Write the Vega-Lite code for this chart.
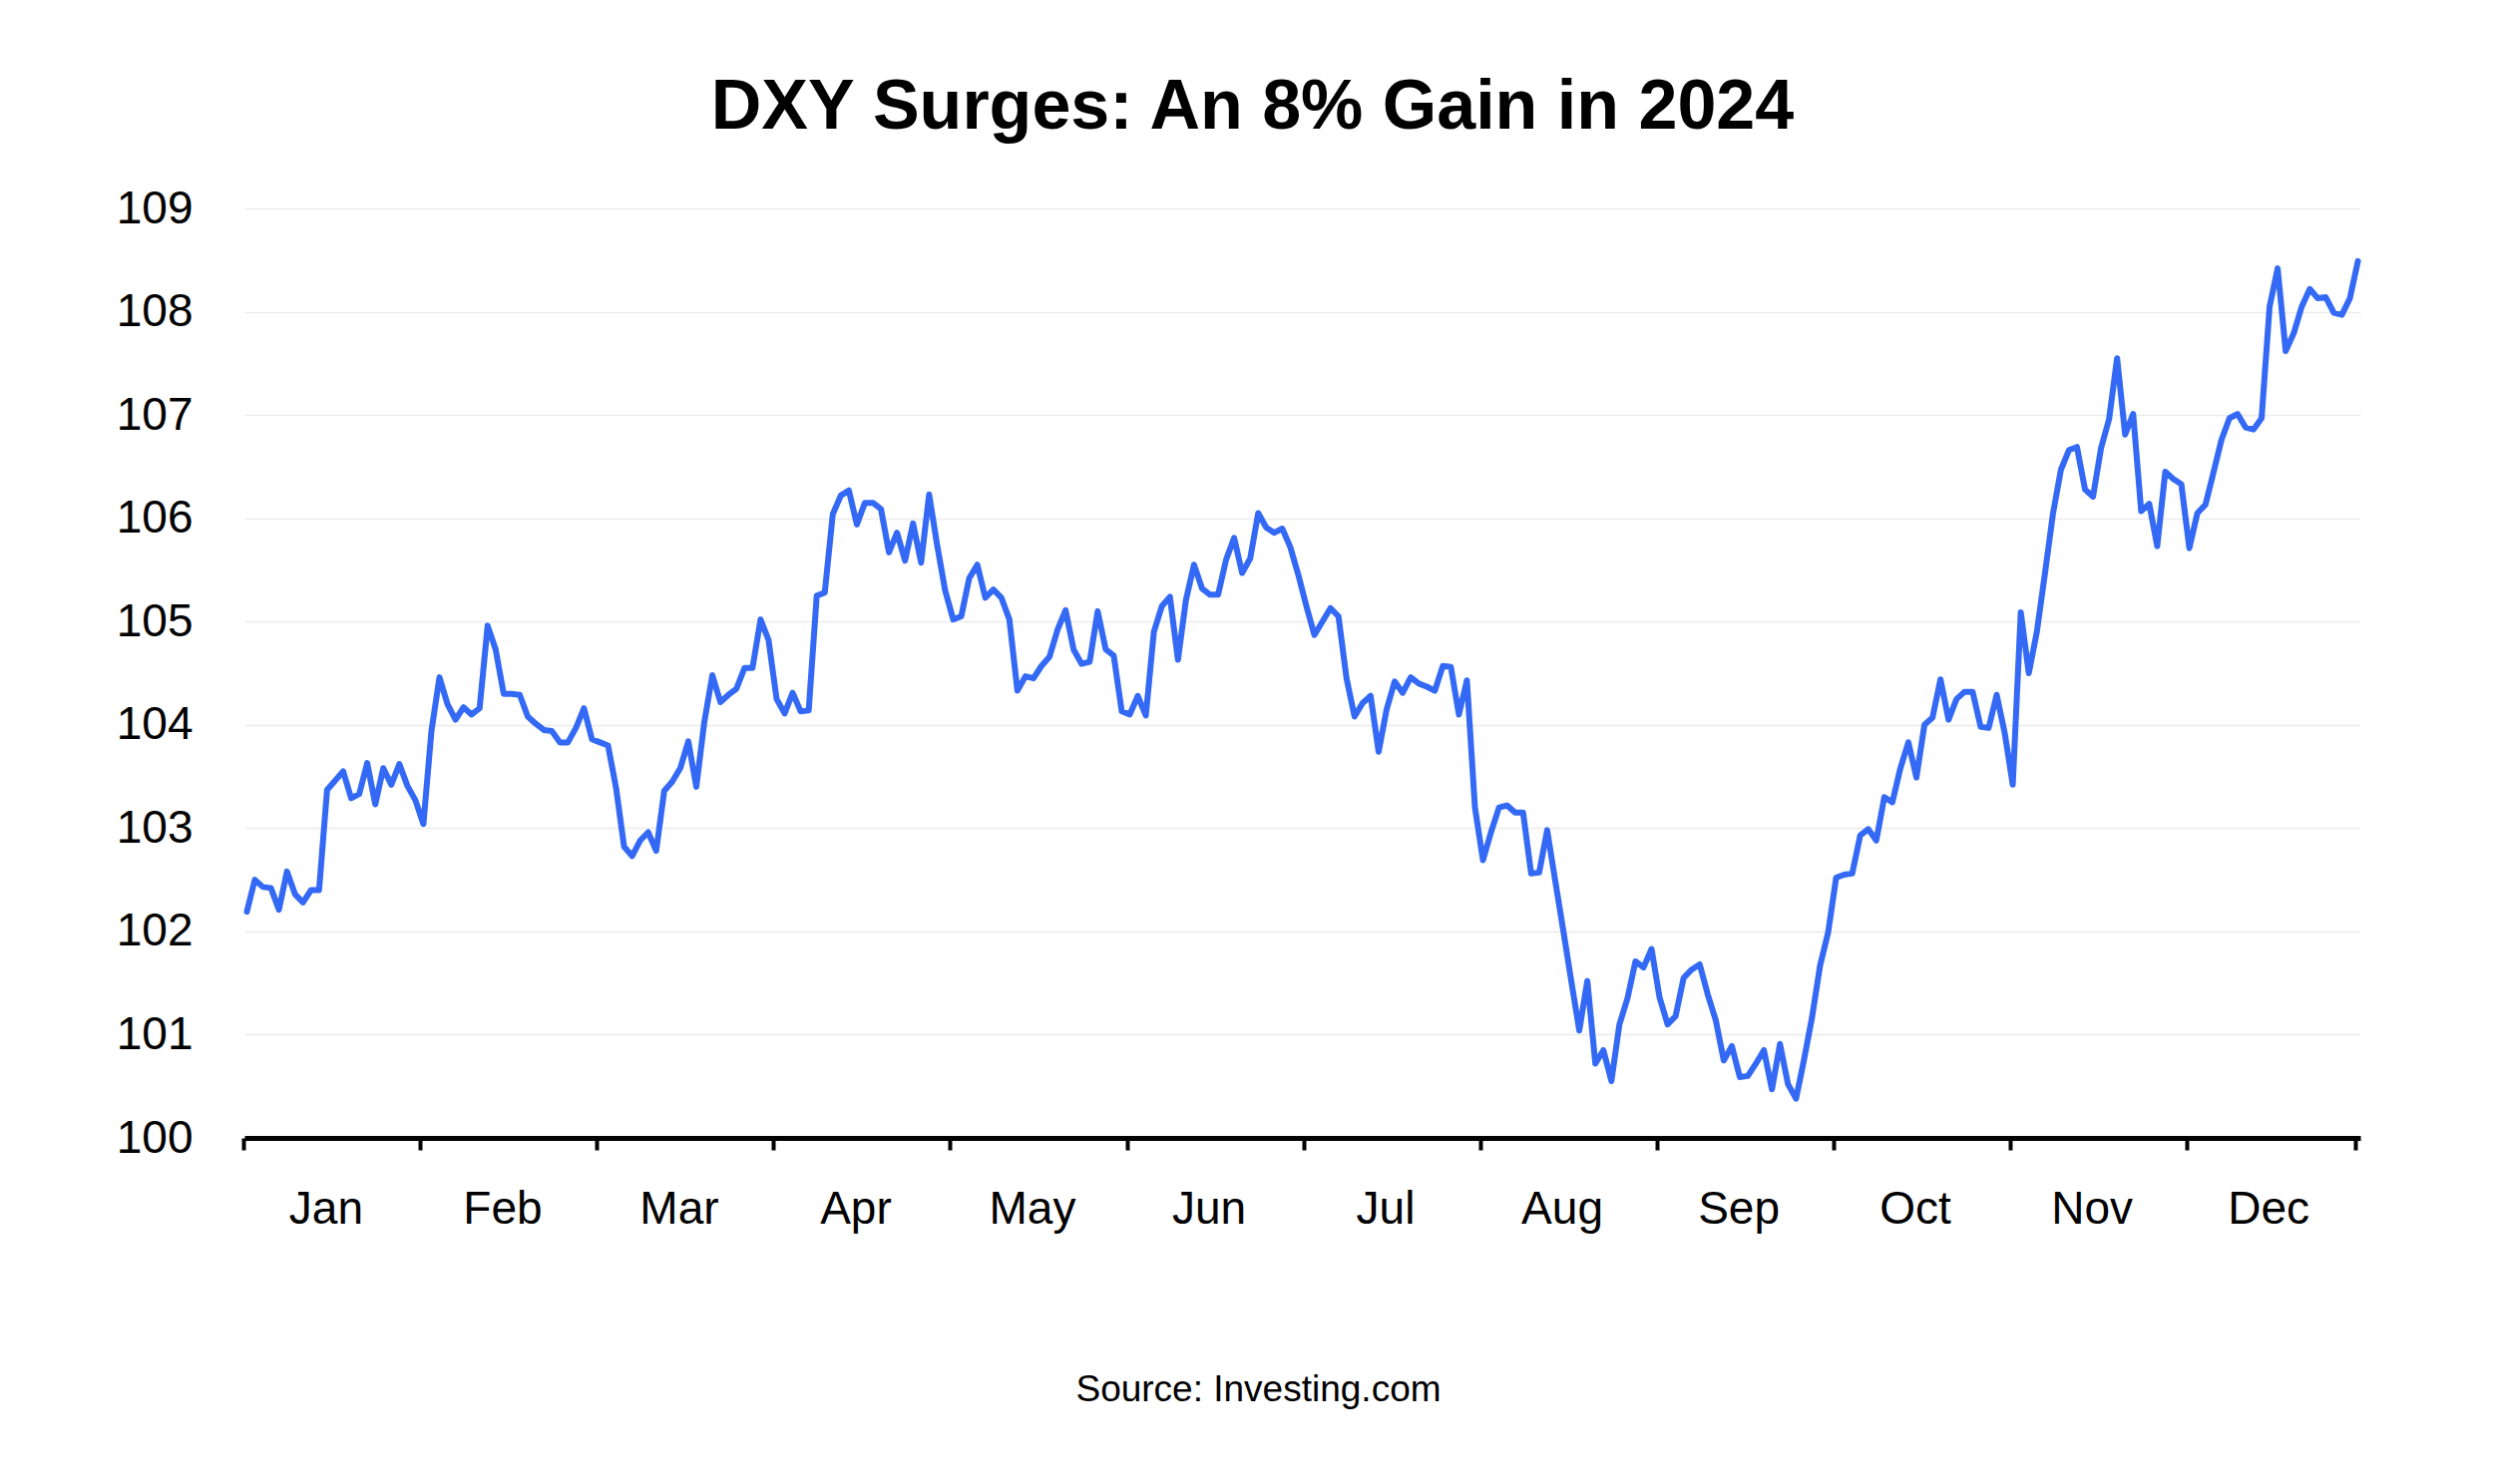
{
  "$schema": "https://vega.github.io/schema/vega-lite/v6.json",
  "width": 2121,
  "height": 932,
  "autosize": {"type": "none"},
  "padding": {"left": 245, "top": 209, "right": 134, "bottom": 347},
  "background": "white",
  "config": {"view": {"stroke": null}, "font": "Liberation Sans"},
  "title": {
    "text": "DXY Surges: An 8% Gain in 2024",
    "font": "Liberation Sans",
    "fontSize": 70,
    "fontWeight": "bold",
    "color": "black",
    "anchor": "middle",
    "baseline": "alphabetic",
    "dx": -50,
    "dy": 69,
    "offset": 56
  },
  "data": {
    "values": [
      {"date": "2024-01-02", "dxy": 102.19}, {"date": "2024-01-03", "dxy": 102.50}, {"date": "2024-01-04", "dxy": 102.43},
      {"date": "2024-01-05", "dxy": 102.42}, {"date": "2024-01-08", "dxy": 102.21}, {"date": "2024-01-09", "dxy": 102.58},
      {"date": "2024-01-10", "dxy": 102.36}, {"date": "2024-01-11", "dxy": 102.28}, {"date": "2024-01-12", "dxy": 102.40},
      {"date": "2024-01-15", "dxy": 102.40}, {"date": "2024-01-16", "dxy": 103.37}, {"date": "2024-01-17", "dxy": 103.46},
      {"date": "2024-01-18", "dxy": 103.55}, {"date": "2024-01-19", "dxy": 103.29}, {"date": "2024-01-22", "dxy": 103.33},
      {"date": "2024-01-23", "dxy": 103.63}, {"date": "2024-01-24", "dxy": 103.23}, {"date": "2024-01-25", "dxy": 103.58},
      {"date": "2024-01-26", "dxy": 103.42}, {"date": "2024-01-29", "dxy": 103.62}, {"date": "2024-01-30", "dxy": 103.41},
      {"date": "2024-01-31", "dxy": 103.27},
      {"date": "2024-02-01", "dxy": 103.04}, {"date": "2024-02-02", "dxy": 103.94}, {"date": "2024-02-05", "dxy": 104.46},
      {"date": "2024-02-06", "dxy": 104.20}, {"date": "2024-02-07", "dxy": 104.05}, {"date": "2024-02-08", "dxy": 104.17},
      {"date": "2024-02-09", "dxy": 104.10}, {"date": "2024-02-12", "dxy": 104.16}, {"date": "2024-02-13", "dxy": 104.96},
      {"date": "2024-02-14", "dxy": 104.73}, {"date": "2024-02-15", "dxy": 104.30}, {"date": "2024-02-16", "dxy": 104.30},
      {"date": "2024-02-19", "dxy": 104.29}, {"date": "2024-02-20", "dxy": 104.08}, {"date": "2024-02-21", "dxy": 104.01},
      {"date": "2024-02-22", "dxy": 103.95}, {"date": "2024-02-23", "dxy": 103.94}, {"date": "2024-02-26", "dxy": 103.83},
      {"date": "2024-02-27", "dxy": 103.83}, {"date": "2024-02-28", "dxy": 103.97}, {"date": "2024-02-29", "dxy": 104.16},
      {"date": "2024-03-01", "dxy": 103.86}, {"date": "2024-03-04", "dxy": 103.83}, {"date": "2024-03-05", "dxy": 103.80},
      {"date": "2024-03-06", "dxy": 103.39}, {"date": "2024-03-07", "dxy": 102.82}, {"date": "2024-03-08", "dxy": 102.73},
      {"date": "2024-03-11", "dxy": 102.88}, {"date": "2024-03-12", "dxy": 102.96}, {"date": "2024-03-13", "dxy": 102.78},
      {"date": "2024-03-14", "dxy": 103.36}, {"date": "2024-03-15", "dxy": 103.45}, {"date": "2024-03-18", "dxy": 103.58},
      {"date": "2024-03-19", "dxy": 103.84}, {"date": "2024-03-20", "dxy": 103.40}, {"date": "2024-03-21", "dxy": 104.03},
      {"date": "2024-03-22", "dxy": 104.48}, {"date": "2024-03-25", "dxy": 104.22}, {"date": "2024-03-26", "dxy": 104.29},
      {"date": "2024-03-27", "dxy": 104.35}, {"date": "2024-03-28", "dxy": 104.55}, {"date": "2024-03-29", "dxy": 104.55},
      {"date": "2024-04-01", "dxy": 105.02}, {"date": "2024-04-02", "dxy": 104.82}, {"date": "2024-04-03", "dxy": 104.25},
      {"date": "2024-04-04", "dxy": 104.11}, {"date": "2024-04-05", "dxy": 104.31}, {"date": "2024-04-08", "dxy": 104.13},
      {"date": "2024-04-09", "dxy": 104.14}, {"date": "2024-04-10", "dxy": 105.25}, {"date": "2024-04-11", "dxy": 105.28},
      {"date": "2024-04-12", "dxy": 106.04}, {"date": "2024-04-15", "dxy": 106.22}, {"date": "2024-04-16", "dxy": 106.27},
      {"date": "2024-04-17", "dxy": 105.94}, {"date": "2024-04-18", "dxy": 106.15}, {"date": "2024-04-19", "dxy": 106.15},
      {"date": "2024-04-22", "dxy": 106.09}, {"date": "2024-04-23", "dxy": 105.67}, {"date": "2024-04-24", "dxy": 105.86},
      {"date": "2024-04-25", "dxy": 105.59}, {"date": "2024-04-26", "dxy": 105.95}, {"date": "2024-04-29", "dxy": 105.57},
      {"date": "2024-04-30", "dxy": 106.23},
      {"date": "2024-05-01", "dxy": 105.74}, {"date": "2024-05-02", "dxy": 105.30}, {"date": "2024-05-03", "dxy": 105.02},
      {"date": "2024-05-06", "dxy": 105.05}, {"date": "2024-05-07", "dxy": 105.42}, {"date": "2024-05-08", "dxy": 105.55},
      {"date": "2024-05-09", "dxy": 105.23}, {"date": "2024-05-10", "dxy": 105.31}, {"date": "2024-05-13", "dxy": 105.23},
      {"date": "2024-05-14", "dxy": 105.02}, {"date": "2024-05-15", "dxy": 104.33}, {"date": "2024-05-16", "dxy": 104.47},
      {"date": "2024-05-17", "dxy": 104.45}, {"date": "2024-05-20", "dxy": 104.57}, {"date": "2024-05-21", "dxy": 104.66},
      {"date": "2024-05-22", "dxy": 104.92}, {"date": "2024-05-23", "dxy": 105.11}, {"date": "2024-05-24", "dxy": 104.73},
      {"date": "2024-05-27", "dxy": 104.59}, {"date": "2024-05-28", "dxy": 104.61}, {"date": "2024-05-29", "dxy": 105.10},
      {"date": "2024-05-30", "dxy": 104.73}, {"date": "2024-05-31", "dxy": 104.67},
      {"date": "2024-06-03", "dxy": 104.13}, {"date": "2024-06-04", "dxy": 104.10}, {"date": "2024-06-05", "dxy": 104.28},
      {"date": "2024-06-06", "dxy": 104.09}, {"date": "2024-06-07", "dxy": 104.90}, {"date": "2024-06-10", "dxy": 105.15},
      {"date": "2024-06-11", "dxy": 105.24}, {"date": "2024-06-12", "dxy": 104.63}, {"date": "2024-06-13", "dxy": 105.21},
      {"date": "2024-06-14", "dxy": 105.55}, {"date": "2024-06-17", "dxy": 105.32}, {"date": "2024-06-18", "dxy": 105.26},
      {"date": "2024-06-19", "dxy": 105.26}, {"date": "2024-06-20", "dxy": 105.60}, {"date": "2024-06-21", "dxy": 105.81},
      {"date": "2024-06-24", "dxy": 105.47}, {"date": "2024-06-25", "dxy": 105.61}, {"date": "2024-06-26", "dxy": 106.05},
      {"date": "2024-06-27", "dxy": 105.91}, {"date": "2024-06-28", "dxy": 105.86},
      {"date": "2024-07-01", "dxy": 105.90}, {"date": "2024-07-02", "dxy": 105.72}, {"date": "2024-07-03", "dxy": 105.45},
      {"date": "2024-07-04", "dxy": 105.15}, {"date": "2024-07-05", "dxy": 104.87}, {"date": "2024-07-08", "dxy": 105.00},
      {"date": "2024-07-09", "dxy": 105.13}, {"date": "2024-07-10", "dxy": 105.05}, {"date": "2024-07-11", "dxy": 104.45},
      {"date": "2024-07-12", "dxy": 104.08}, {"date": "2024-07-15", "dxy": 104.21}, {"date": "2024-07-16", "dxy": 104.28},
      {"date": "2024-07-17", "dxy": 103.74}, {"date": "2024-07-18", "dxy": 104.15}, {"date": "2024-07-19", "dxy": 104.42},
      {"date": "2024-07-22", "dxy": 104.31}, {"date": "2024-07-23", "dxy": 104.46}, {"date": "2024-07-24", "dxy": 104.40},
      {"date": "2024-07-25", "dxy": 104.37}, {"date": "2024-07-26", "dxy": 104.33}, {"date": "2024-07-29", "dxy": 104.57},
      {"date": "2024-07-30", "dxy": 104.56}, {"date": "2024-07-31", "dxy": 104.10},
      {"date": "2024-08-01", "dxy": 104.43}, {"date": "2024-08-02", "dxy": 103.20}, {"date": "2024-08-05", "dxy": 102.69},
      {"date": "2024-08-06", "dxy": 102.96}, {"date": "2024-08-07", "dxy": 103.20}, {"date": "2024-08-08", "dxy": 103.22},
      {"date": "2024-08-09", "dxy": 103.15}, {"date": "2024-08-12", "dxy": 103.15}, {"date": "2024-08-13", "dxy": 102.56},
      {"date": "2024-08-14", "dxy": 102.57}, {"date": "2024-08-15", "dxy": 102.98}, {"date": "2024-08-16", "dxy": 102.49},
      {"date": "2024-08-19", "dxy": 102.01}, {"date": "2024-08-20", "dxy": 101.52}, {"date": "2024-08-21", "dxy": 101.04},
      {"date": "2024-08-22", "dxy": 101.52}, {"date": "2024-08-23", "dxy": 100.72}, {"date": "2024-08-26", "dxy": 100.85},
      {"date": "2024-08-27", "dxy": 100.55}, {"date": "2024-08-28", "dxy": 101.10}, {"date": "2024-08-29", "dxy": 101.35},
      {"date": "2024-08-30", "dxy": 101.71},
      {"date": "2024-09-02", "dxy": 101.65}, {"date": "2024-09-03", "dxy": 101.83}, {"date": "2024-09-04", "dxy": 101.36},
      {"date": "2024-09-05", "dxy": 101.10}, {"date": "2024-09-06", "dxy": 101.18}, {"date": "2024-09-09", "dxy": 101.55},
      {"date": "2024-09-10", "dxy": 101.63}, {"date": "2024-09-11", "dxy": 101.68}, {"date": "2024-09-12", "dxy": 101.39},
      {"date": "2024-09-13", "dxy": 101.14}, {"date": "2024-09-16", "dxy": 100.75}, {"date": "2024-09-17", "dxy": 100.89},
      {"date": "2024-09-18", "dxy": 100.59}, {"date": "2024-09-19", "dxy": 100.60}, {"date": "2024-09-20", "dxy": 100.72},
      {"date": "2024-09-23", "dxy": 100.85}, {"date": "2024-09-24", "dxy": 100.47}, {"date": "2024-09-25", "dxy": 100.91},
      {"date": "2024-09-26", "dxy": 100.52}, {"date": "2024-09-27", "dxy": 100.38}, {"date": "2024-09-30", "dxy": 100.76},
      {"date": "2024-10-01", "dxy": 101.17}, {"date": "2024-10-02", "dxy": 101.67}, {"date": "2024-10-03", "dxy": 101.99},
      {"date": "2024-10-04", "dxy": 102.52}, {"date": "2024-10-07", "dxy": 102.55}, {"date": "2024-10-08", "dxy": 102.56},
      {"date": "2024-10-09", "dxy": 102.93}, {"date": "2024-10-10", "dxy": 102.99}, {"date": "2024-10-11", "dxy": 102.88},
      {"date": "2024-10-14", "dxy": 103.30}, {"date": "2024-10-15", "dxy": 103.25}, {"date": "2024-10-16", "dxy": 103.58},
      {"date": "2024-10-17", "dxy": 103.83}, {"date": "2024-10-18", "dxy": 103.49}, {"date": "2024-10-21", "dxy": 104.00},
      {"date": "2024-10-22", "dxy": 104.07}, {"date": "2024-10-23", "dxy": 104.44}, {"date": "2024-10-24", "dxy": 104.05},
      {"date": "2024-10-25", "dxy": 104.25}, {"date": "2024-10-28", "dxy": 104.32}, {"date": "2024-10-29", "dxy": 104.32},
      {"date": "2024-10-30", "dxy": 103.98}, {"date": "2024-10-31", "dxy": 103.97},
      {"date": "2024-11-01", "dxy": 104.29}, {"date": "2024-11-04", "dxy": 103.92}, {"date": "2024-11-05", "dxy": 103.42},
      {"date": "2024-11-06", "dxy": 105.09}, {"date": "2024-11-07", "dxy": 104.50}, {"date": "2024-11-08", "dxy": 104.90},
      {"date": "2024-11-11", "dxy": 105.46}, {"date": "2024-11-12", "dxy": 106.04}, {"date": "2024-11-13", "dxy": 106.47},
      {"date": "2024-11-14", "dxy": 106.66}, {"date": "2024-11-15", "dxy": 106.69}, {"date": "2024-11-18", "dxy": 106.28},
      {"date": "2024-11-19", "dxy": 106.21}, {"date": "2024-11-20", "dxy": 106.68}, {"date": "2024-11-21", "dxy": 106.96},
      {"date": "2024-11-22", "dxy": 107.55}, {"date": "2024-11-25", "dxy": 106.81}, {"date": "2024-11-26", "dxy": 107.01},
      {"date": "2024-11-27", "dxy": 106.07}, {"date": "2024-11-28", "dxy": 106.14}, {"date": "2024-11-29", "dxy": 105.73},
      {"date": "2024-12-02", "dxy": 106.45}, {"date": "2024-12-03", "dxy": 106.38}, {"date": "2024-12-04", "dxy": 106.33},
      {"date": "2024-12-05", "dxy": 105.71}, {"date": "2024-12-06", "dxy": 106.05}, {"date": "2024-12-09", "dxy": 106.13},
      {"date": "2024-12-10", "dxy": 106.44}, {"date": "2024-12-11", "dxy": 106.76}, {"date": "2024-12-12", "dxy": 106.97},
      {"date": "2024-12-13", "dxy": 107.01}, {"date": "2024-12-15", "dxy": 106.88}, {"date": "2024-12-16", "dxy": 106.86},
      {"date": "2024-12-17", "dxy": 106.97}, {"date": "2024-12-18", "dxy": 108.05}, {"date": "2024-12-19", "dxy": 108.42},
      {"date": "2024-12-20", "dxy": 107.62}, {"date": "2024-12-22", "dxy": 107.79}, {"date": "2024-12-23", "dxy": 108.05},
      {"date": "2024-12-24", "dxy": 108.22}, {"date": "2024-12-25", "dxy": 108.13}, {"date": "2024-12-26", "dxy": 108.14},
      {"date": "2024-12-27", "dxy": 107.99}, {"date": "2024-12-29", "dxy": 107.97}, {"date": "2024-12-30", "dxy": 108.13},
      {"date": "2024-12-31", "dxy": 108.49}
    ]
  },
  "mark": {"type": "line", "color": "#3369F5", "strokeWidth": 6, "strokeJoin": "round", "strokeCap": "round"},
  "encoding": {
    "x": {
      "field": "date",
      "type": "ordinal",
      "scale": {"type": "point", "padding": 0.3},
      "axis": {
        "values": ["2024-01-02", "2024-02-01", "2024-03-04", "2024-04-03", "2024-05-03", "2024-06-04", "2024-07-04", "2024-08-05", "2024-09-04", "2024-10-04", "2024-11-05", "2024-12-05", "2024-12-31"],
        "labelExpr": "datum.value == '2024-12-31' ? '' : ['Jan','Feb','Mar','Apr','May','Jun','Jul','Aug','Sep','Oct','Nov','Dec'][toNumber(substring(datum.value, 5, 7)) - 1]",
        "labelAngle": 0,
        "labelOverlap": false,
        "labelFontSize": 46,
        "labelColor": "black",
        "labelBaseline": "alphabetic",
        "labelPadding": 73,
        "labelOffset": 82,
        "domainColor": "black",
        "domainWidth": 5,
        "tickColor": "black",
        "tickWidth": 4,
        "tickSize": 12,
        "tickOffset": -3,
        "grid": false,
        "title": "Source: Investing.com",
        "titleFontSize": 37,
        "titleFontWeight": "normal",
        "titleColor": "black",
        "titleBaseline": "alphabetic",
        "titleAlign": "center",
        "titleX": 1016,
        "titleY": 263
      }
    },
    "y": {
      "field": "dxy",
      "type": "quantitative",
      "scale": {"domain": [100, 109], "nice": false, "zero": false},
      "axis": {
        "values": [100, 101, 102, 103, 104, 105, 106, 107, 108, 109],
        "domain": false,
        "ticks": false,
        "grid": true,
        "gridColor": "#ebebeb",
        "gridWidth": 1.5,
        "labelFontSize": 46,
        "labelColor": "black",
        "labelPadding": 52,
        "title": null
      }
    }
  }
}
